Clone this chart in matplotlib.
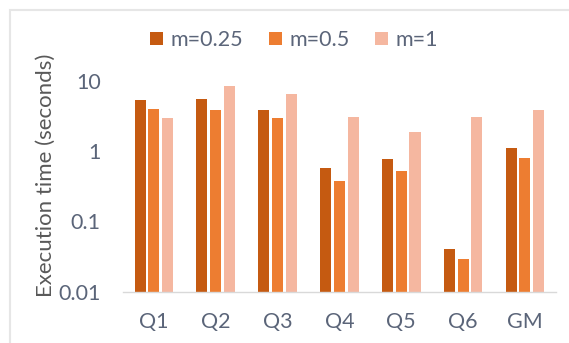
import matplotlib
matplotlib.use('Agg')
import matplotlib.pyplot as plt
import numpy as np
from matplotlib.patches import Rectangle

# data
queries = ['Q1', 'Q2', 'Q3', 'Q4', 'Q5', 'Q6', 'GM']
m_025 = [5.3, 5.6, 3.9, 0.57, 0.78, 0.041, 1.1]
m_05 = [4.0, 3.8, 2.95, 0.37, 0.53, 0.029, 0.8]
m_1 = [3.0, 8.4, 6.6, 3.1, 1.9, 3.1, 3.8]
series_labels = ['m=0.25', 'm=0.5', 'm=1']

#colours
colo_dark = '#C55A11'
colo_mid = '#ED7D31'
colo_light = '#F5B7A0'
colo_text = '#5b6579'

plt.rcParams['font.family'] = ['Lato', 'DejaVu Sans']

fig = plt.figure(figsize=(5.69, 3.43), dpi=100)
ax = fig.add_axes([0.216, 0.150, 0.761, 0.614])

x = np.arange(len(queries))
step = 0.222
width = 0.178
for i, (vals, colr, lab) in enumerate(zip([m_025, m_05, m_1],
                                          [colo_dark, colo_mid, colo_light],
                                          series_labels)):
    ax.bar(x + (i - 1) * step, vals, width=width, color=colr, label=lab)

ax.set_yscale('log')
ax.set_ylim(0.01, 10)
ax.set_xlim(-0.5, len(queries) - 0.5)
ax.set_yticks([0.01, 0.1, 1, 10])
ax.set_yticklabels(['0.01', '0.1', '1', '10'])
ax.minorticks_off()
ax.set_xticks(x)
ax.set_xticklabels(queries)
ax.tick_params(axis='both', length=0, labelsize=15.5, colors=colo_text)
ax.tick_params(axis='x', pad=15)
ax.tick_params(axis='y', pad=16)

#spines
for s in ['top', 'right', 'left']:
    ax.spines[s].set_visible(False)
ax.spines['bottom'].set_color('#d9d9d9')
ax.spines['bottom'].set_linewidth(1)

fig.text(0.080, 0.49, 'Execution time (seconds)', rotation=90,
         ha='center', va='center', fontsize=16, color='#595959')

fig.legend(loc='center', bbox_to_anchor=(0.517, 0.883), ncol=3, frameon=False,
           fontsize=15.5, handlelength=0.6, handleheight=0.6, handletextpad=0.35,
           columnspacing=1.2, labelcolor=colo_text)

#outer chart border
fig.patches.append(Rectangle((10 / 569, -0.1), 1.2, 1 - 9.5 / 343 + 0.1,
                             transform=fig.transFigure, fill=False,
                             edgecolor='#e6e6e6', linewidth=1.5))

fig.savefig('out.png', dpi=100)
